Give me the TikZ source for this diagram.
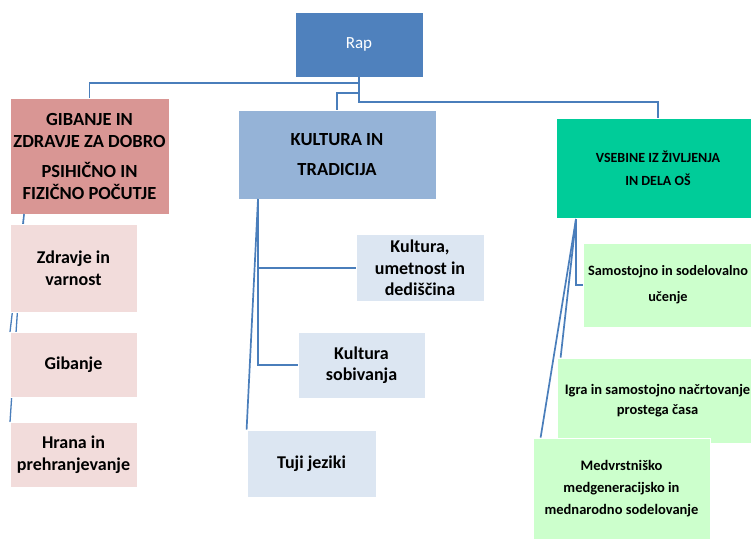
\documentclass[tikz,border=0pt]{standalone}
\usepackage{fontspec}
\setmainfont{Carlito}
\usetikzlibrary{calc}
\definecolor{rapblue}{HTML}{4F81BD}
\definecolor{lineblue}{HTML}{4A7EBB}
\definecolor{gibred}{HTML}{D99694}
\definecolor{gibpink}{HTML}{F2DCDB}
\definecolor{kultblue}{HTML}{95B3D7}
\definecolor{kultlight}{HTML}{DCE6F2}
\definecolor{vsebgreen}{HTML}{00CC99}
\definecolor{vseblight}{HTML}{CCFFCC}
\begin{document}
\begin{tikzpicture}[x=1pt,y=-1pt,
  box/.style={rectangle, draw=white, line width=0.8pt, inner sep=0pt, align=center, text=black},
  conn/.style={draw=lineblue, line width=1.7pt},
  hdr/.style={font=\bfseries\fontsize{18.5}{22}\selectfont},
  subt/.style={font=\bfseries\fontsize{18}{21.5}\selectfont},
  smallt/.style={font=\bfseries\fontsize{14.5}{21}\selectfont}]
\useasboundingbox (0,0) rectangle (751,538);
\fill[white] (0,0) rectangle (751,538);
\clip (0,0) rectangle (751,538);

% coordinates for connectors
\coordinate (j0) at (359,83);
\coordinate (j1) at (359,93);
\coordinate (j2) at (359,102);
\coordinate (gt) at (24,214);
\coordinate (kt) at (258,199);
\coordinate (vt) at (576,219);
\coordinate (vb) at (576,285);

% top boxes
\node[box, fill=rapblue, minimum width=128pt, minimum height=65pt, text=white, font=\fontsize{17}{20}\selectfont] (rap) at (359,44.5) {Rap};
\node[box, fill=gibred, minimum width=159pt, minimum height=116pt, hdr] (gib) at (89.5,156) {GIBANJE IN\\ZDRAVJE ZA DOBRO\\[8pt]PSIHIČNO IN\\FIZIČNO POČUTJE};
\node[box, fill=kultblue, minimum width=198pt, minimum height=89pt, hdr] (kult) at (337,154.5) {KULTURA IN\\[8pt]TRADICIJA};
\node[box, fill=vsebgreen, minimum width=204pt, minimum height=100pt, font=\bfseries\fontsize{14}{17}\selectfont] (vseb) at (658,168) {VSEBINE IZ ŽIVLJENJA\\[6pt]IN DELA OŠ};

% connectors from Rap
\draw[conn] (rap.south) -- (j0) -| (gib.north);
\draw[conn] (j0) -- (j2) -| (vseb.north);
\draw[conn] (j1) -| (kult.north);

% left column connectors (mostly hidden behind the boxes)
\draw[conn, line width=1.3pt] (gt) -- (10,332);
\draw[conn, line width=1.3pt] (gt) -- (10,422);

\node[box, fill=gibpink, minimum width=127pt, minimum height=88pt, subt] (zd) at (73.5,268) {Zdravje in\\varnost};
\node[box, fill=gibpink, minimum width=127pt, minimum height=65pt, subt] (gb) at (73.5,364.5) {Gibanje};
\node[box, fill=gibpink, minimum width=127pt, minimum height=65pt, subt] (hr) at (73.5,454.5) {Hrana in\\prehranjevanje};

% middle column
\node[box, fill=kultlight, minimum width=128pt, minimum height=67pt, subt] (um) at (420,268) {Kultura,\\umetnost in\\dediščina};
\node[box, fill=kultlight, minimum width=127pt, minimum height=66pt, subt] (sob) at (361.5,365) {Kultura\\sobivanja};
\node[box, fill=kultlight, minimum width=129pt, minimum height=67pt, subt] (tuji) at (311.5,463.5) {Tuji jeziki};

\draw[conn] (kt) |- (sob.west);
\draw[conn] (kt |- um.west) -- (um.west);
\draw[conn] (kt) -- (tuji.north west);

% right column
\node[box, fill=vseblight, minimum width=170pt, minimum height=84pt, font=\bfseries\fontsize{14.3}{21}\selectfont] (sam) at (668,285) {Samostojno in sodelovalno\\[5pt]učenje};
\node[box, fill=vseblight, minimum width=201pt, minimum height=85pt, font=\bfseries\fontsize{14.5}{20}\selectfont] (igra) at (657.5,400.5) {Igra in samostojno načrtovanje\\prostega časa};

\draw[conn] (vt) -- (vb) -- (sam.west);
\draw[conn] (vt) -- ($(igra.north west)+(4,0)$);
\draw[conn] (vt) -- ($(igra.north west)+(-16,80)$);

\node[box, fill=vseblight, minimum width=177pt, minimum height=102pt, font=\bfseries\fontsize{14.5}{22}\selectfont] (med) at (621.5,489) {Medvrstniško\\medgeneracijsko in\\mednarodno sodelovanje};
\end{tikzpicture}
\end{document}
